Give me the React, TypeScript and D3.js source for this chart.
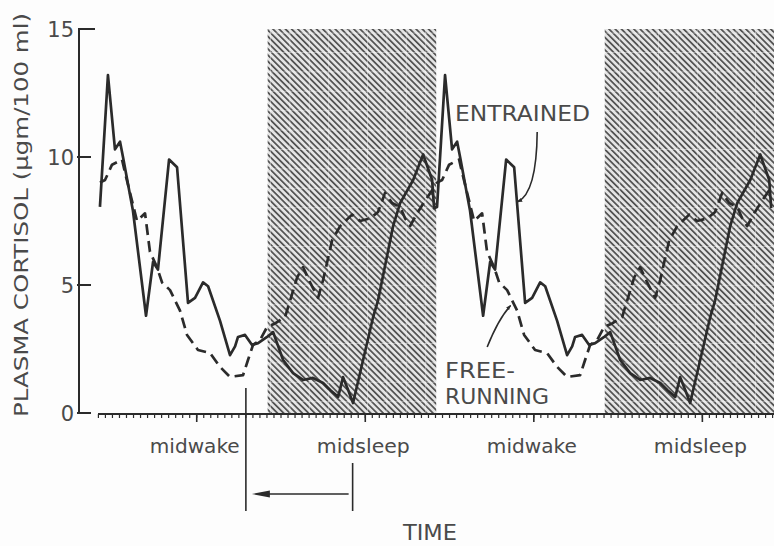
import React from 'react';
import * as d3 from 'd3';

// Hours from the start of the record (one 24 h cycle, double-plotted)
const entrainedT = [0.21, 0.78, 1.28, 1.64, 1.85, 2.56, 3.49, 3.99, 4.34, 5.13, 5.70, 6.48, 6.98, 7.55, 7.91, 8.76, 9.47, 9.83, 10.04, 10.54, 11.04, 11.47, 12.11, 12.54, 13.25, 13.96, 14.67, 15.38, 16.10, 16.60, 17.17, 17.52, 17.88, 18.23, 19.66, 20.01, 21.08, 21.58, 22.51, 23.22, 23.86, 24.0];
const entrainedV = [8.05, 13.2, 10.3, 10.6, 10.0, 7.9, 3.8, 5.9, 5.6, 9.9, 9.6, 4.3, 4.5, 5.1, 4.95, 3.6, 2.26, 2.6, 2.97, 3.05, 2.66, 2.73, 2.97, 3.16, 2.07, 1.56, 1.29, 1.37, 1.17, 0.9, 0.63, 1.4, 0.9, 0.39, 3.75, 4.4, 7.3, 8.2, 9.1, 10.1, 9.1, 8.0];

const freeT = [0.21, 0.57, 1.07, 1.78, 1.99, 2.85, 3.42, 3.77, 4.27, 4.63, 5.20, 5.91, 6.41, 7.19, 8.05, 8.76, 9.47, 10.40, 10.75, 11.11, 11.61, 12.11, 12.68, 13.39, 14.25, 14.67, 15.17, 15.74, 16.10, 16.74, 17.31, 18.16, 18.73, 19.44, 20.01, 20.51, 21.01, 21.58, 21.94, 22.29, 22.79, 23.36, 23.86];
const freeV = [9.0, 9.1, 9.7, 9.9, 9.4, 7.5, 7.8, 6.3, 5.7, 5.1, 4.8, 4.0, 3.05, 2.46, 2.34, 1.8, 1.41, 1.48, 2.07, 2.66, 2.85, 3.36, 3.5, 3.75, 5.3, 5.7, 5.1, 4.5, 5.2, 6.75, 7.3, 7.75, 7.5, 7.6, 7.85, 8.6, 8.2, 8.05, 7.6, 7.3, 7.8, 8.3, 8.7];

const PERIOD = 24;
const CYCLES = [0, 1];
const yTicks = [0, 5, 10, 15];
const phaseLabels = ['midwake', 'midsleep', 'midwake', 'midsleep'];
const phaseTimes = [7.1, 19.1, 31.1, 43.1];
const sleepBands: [number, number][] = [[12.15, 24.15], [36.15, 48.3]];
const shiftFrom = 18.2; // entrained midsleep marker
const shiftTo = 10.6;   // free-running marker

const FONT = '"DejaVu Sans", "Noto Sans", sans-serif';
const INK = '#2b2b2b';
const TXT = '#4a4a4a';

export default function App() {
  const W = 774, H = 546;
  const x = d3.scaleLinear().domain([0, 48.2]).range([97, 774]);
  const y = d3.scaleLinear().domain([0, 15]).range([413, 29]);
  const axisY = 414;
  const axisX = 79;

  const doubled = (T: number[], V: number[]) =>
    CYCLES.flatMap(c => T.map((t, i) => [t + c * PERIOD, V[i]] as [number, number]));
  const line = d3.line<[number, number]>().x(d => x(d[0])).y(d => y(d[1]));

  const minorTicks = d3.range(0.1, 48.2, 0.5);

  // pointer paths
  const eStart: [number, number] = [x(31.34), y(10.98)];
  const eEnd: [number, number] = [x(29.95), y(8.25)];
  const ePath = `M${eStart[0]},${eStart[1]} Q${x(31.3)},${y(8.6)} ${eEnd[0]},${eEnd[1]}`;
  const fStart: [number, number] = [x(27.78), y(2.58)];
  const fEnd: [number, number] = [x(29.45), y(4.2)];
  const fPath = `M${fStart[0]},${fStart[1]} Q${x(28.6)},${y(3.7)} ${fEnd[0]},${fEnd[1]}`;

  return (
    <svg width={W} height={H} style={{ position: 'absolute', left: 0, top: 0, background: '#fdfdfd' }}>
      <defs>
        <pattern id="hatch" patternUnits="userSpaceOnUse" width={4.4} height={4.4} patternTransform="rotate(-45)">
          <rect width={4.4} height={4.4} fill="#e4e4e4" />
          <rect width={1.7} height={4.4} fill="#505050" />
        </pattern>
        <pattern id="grid" patternUnits="userSpaceOnUse" x={270} y={52} width={19.4} height={19.4}>
          <line x1={0.5} y1={0} x2={0.5} y2={19.4} stroke="#ffffff" strokeOpacity={0.4} strokeWidth={1} />
          <line x1={0} y1={0.5} x2={19.4} y2={0.5} stroke="#ffffff" strokeOpacity={0.4} strokeWidth={1} />
        </pattern>
        <marker id="ah" viewBox="0 0 10 10" refX={9} refY={5} markerWidth={5} markerHeight={5} orient="auto" markerUnits="userSpaceOnUse">
          <path d="M0,1 L10,5 L0,9 Z" fill={INK} />
        </marker>
      </defs>

      {/* sleep bands */}
      {sleepBands.map(([a, b], i) => (
        <g key={i}>
          <rect x={x(a)} y={y(15)} width={Math.min(x(b), W) - x(a)} height={axisY - y(15)} fill="url(#hatch)" />
          <rect x={x(a)} y={y(15)} width={Math.min(x(b), W) - x(a)} height={axisY - y(15)} fill="url(#grid)" />
        </g>
      ))}

      {/* y axis */}
      <line x1={axisX} y1={y(15) - 1} x2={axisX} y2={y(0) + 1} stroke={INK} strokeWidth={2} />
      {yTicks.map(t => (
        <g key={t}>
          <line x1={t === 15 ? axisX : axisX - 2} x2={t === 15 ? axisX + 16 : axisX + 12} y1={y(t)} y2={y(t)} stroke={INK} strokeWidth={2} />
          <text x={74} y={y(t)} dy="0.36em" textAnchor="end" fontFamily={FONT} fontSize={21} fill={TXT}>{t}</text>
        </g>
      ))}
      <text transform={`translate(28,${(12 + 418) / 2}) rotate(-90)`} textAnchor="middle" fontFamily={FONT} fontSize={20}
        fill={TXT} textLength={404} lengthAdjust="spacingAndGlyphs">PLASMA CORTISOL (μgm/100 ml)</text>

      {/* x axis */}
      <line x1={98} x2={W} y1={axisY} y2={axisY} stroke={INK} strokeWidth={2} />
      {minorTicks.map((t, i) => (
        <line key={i} x1={x(t)} x2={x(t)} y1={axisY} y2={axisY + 4} stroke={INK} strokeWidth={1.2} />
      ))}
      {phaseTimes.map((t, i) => (
        <g key={i}>
          <line x1={x(t)} x2={x(t)} y1={axisY} y2={axisY + 8} stroke={INK} strokeWidth={1.6} />
          <text x={x(t) - 2} y={453} textAnchor="middle" fontFamily={FONT} fontSize={20} fill={TXT}
            textLength={phaseLabels[i] === 'midwake' ? 90 : 93} lengthAdjust="spacingAndGlyphs">{phaseLabels[i]}</text>
        </g>
      ))}

      {/* curves */}
      <path d={line(doubled(freeT, freeV)) || ''} fill="none" stroke={INK} strokeWidth={2.7} strokeDasharray="11,6" strokeLinejoin="round" />
      <path d={line(doubled(entrainedT, entrainedV)) || ''} fill="none" stroke={INK} strokeWidth={2.7} strokeLinejoin="round" />

      {/* labels and pointers */}
      <text x={455} y={121} fontFamily={FONT} fontSize={21} fill={TXT} textLength={135} lengthAdjust="spacingAndGlyphs">ENTRAINED</text>
      <path d={ePath} fill="none" stroke={INK} strokeWidth={1.6} markerEnd="url(#ah)" />
      <text x={445} y={378} fontFamily={FONT} fontSize={21} fill={TXT} textLength={70} lengthAdjust="spacingAndGlyphs">FREE-</text>
      <text x={445} y={404} fontFamily={FONT} fontSize={21} fill={TXT} textLength={104} lengthAdjust="spacingAndGlyphs">RUNNING</text>
      <path d={fPath} fill="none" stroke={INK} strokeWidth={1.6} markerEnd="url(#ah)" />

      {/* phase shift arrow */}
      <line x1={x(shiftTo)} x2={x(shiftTo)} y1={388} y2={511} stroke={INK} strokeWidth={1.6} />
      <line x1={x(shiftFrom)} x2={x(shiftFrom)} y1={463} y2={511} stroke={INK} strokeWidth={1.6} />
      <line x1={x(shiftFrom) - 4} x2={x(shiftTo) + 20} y1={494} y2={494} stroke={INK} strokeWidth={1.6} />
      <path d={`M${x(shiftTo) + 6},494 L${x(shiftTo) + 24},490.5 L${x(shiftTo) + 24},497.5 Z`} fill={INK} />

      <text x={430} y={540} textAnchor="middle" fontFamily={FONT} fontSize={21} fill={TXT} textLength={54} lengthAdjust="spacingAndGlyphs">TIME</text>
    </svg>
  );
}
